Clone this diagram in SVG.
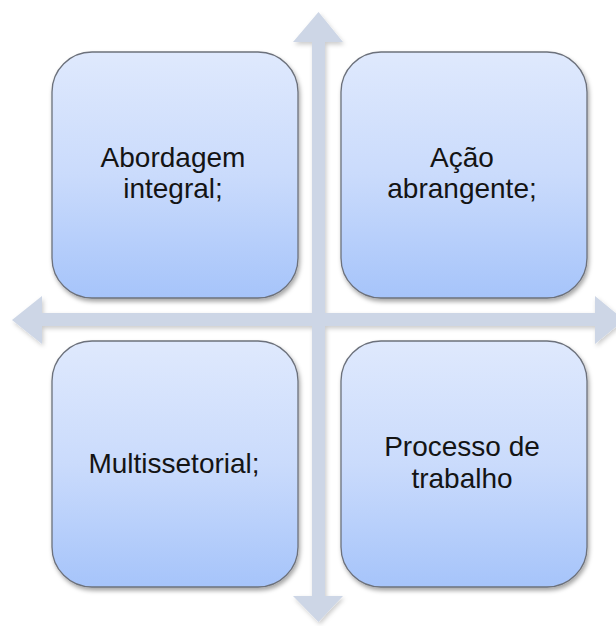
<svg xmlns="http://www.w3.org/2000/svg" width="616" height="626" viewBox="0 0 616 626">
<defs>
<linearGradient id="boxGrad" x1="0" y1="0" x2="0" y2="1">
<stop offset="0" stop-color="#dfe9fd"/>
<stop offset="0.5" stop-color="#cadbfc"/>
<stop offset="1" stop-color="#a6c4fa"/>
</linearGradient>
<filter id="shadow" x="-10%" y="-10%" width="130%" height="130%">
<feDropShadow dx="1.5" dy="3" stdDeviation="2" flood-color="#000" flood-opacity="0.35"/>
</filter>
<filter id="ashadow" x="-10%" y="-10%" width="130%" height="130%">
<feDropShadow dx="1.5" dy="2.5" stdDeviation="2" flood-color="#000" flood-opacity="0.2"/>
</filter>
</defs>
<style>
.box{fill:url(#boxGrad);stroke:#6c717b;stroke-width:1.3;filter:url(#shadow)}
.lbl{font-family:"Liberation Sans",Arial,sans-serif;font-size:28px;fill:#141414;text-anchor:middle}
.arrow{fill:#cdd6e6;filter:url(#ashadow)}
</style>
<rect width="616" height="626" fill="#ffffff"/>
<g id="connectors">
<polygon class="arrow" points="318.5,12 343,42 325,42 325,313 595,313 595,296 624,320 595,344 595,326 325,326 325,596 343,596 318.5,622 293,596 312,596 312,326 42,326 42,344 12,320 42,296 42,313 312,313 312,42 293,42"/>
</g>
<g id="node-abordagem">
<rect class="box" x="52" y="52" width="246" height="246" rx="40" ry="40"/>
<text class="lbl" x="173" y="167">Abordagem</text>
<text class="lbl" x="173" y="198">integral;</text>
</g>
<g id="node-acao">
<rect class="box" x="341" y="52" width="246" height="246" rx="40" ry="40"/>
<text class="lbl" x="462" y="167">Ação</text>
<text class="lbl" x="462" y="198">abrangente;</text>
</g>
<g id="node-multissetorial">
<rect class="box" x="52" y="341" width="246" height="246" rx="40" ry="40"/>
<text class="lbl" x="174" y="473">Multissetorial;</text>
</g>
<g id="node-processo">
<rect class="box" x="341" y="341" width="246" height="246" rx="40" ry="40"/>
<text class="lbl" x="462" y="456">Processo de</text>
<text class="lbl" x="462" y="488">trabalho</text>
</g>
</svg>
